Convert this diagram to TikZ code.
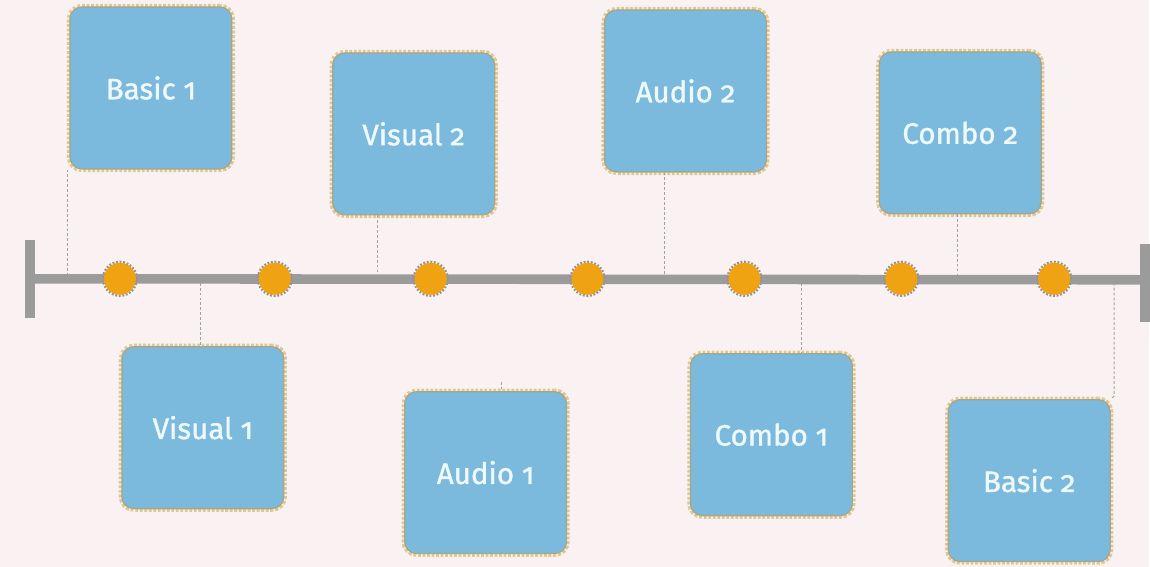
\documentclass[tikz,border=0pt]{standalone}
\usepackage{fontspec}
\setmainfont{Fira Sans}[Numbers=OldStyle]
\newfontfamily\cardfont{Fira Sans}[Numbers=OldStyle, FakeBold=1.2]
\usepackage{tikz}
\usetikzlibrary{calc}
\definecolor{bgpink}{RGB}{250,242,242}
\definecolor{cardblue}{RGB}{123,185,221}
\definecolor{cardedge}{RGB}{170,165,130}
\definecolor{cardhalo}{RGB}{222,200,150}
\definecolor{cardtext}{RGB}{238,249,252}
\definecolor{dotorange}{RGB}{240,163,18}
\definecolor{dotgray}{RGB}{150,146,140}
\definecolor{axisgray}{RGB}{155,155,155}
\definecolor{linkgray}{RGB}{165,160,155}
\tikzset{
	card/.style={rectangle, rounded corners=0.3cm, minimum width=4.05cm, minimum height=4.05cm,
		fill=cardblue, draw=cardedge, line width=0.9pt, text=cardtext,
		font=\cardfont\fontsize{21}{26}\selectfont,
		preaction={draw=cardhalo, line width=4.5pt, dash pattern=on 2pt off 1.2pt}},
	milestone/.style={circle, minimum size=0.8cm, inner sep=0pt, fill=dotorange,
		preaction={draw=dotgray, line width=3pt, dash pattern=on 1.2pt off 1.2pt}},
	link/.style={draw=linkgray, line width=0.7pt, dash pattern=on 2pt off 1.5pt},
	axis/.style={draw=axisgray, line width=6.8pt},
}

\begin{document}
\begin{tikzpicture}[x=0.025cm, y=-0.025cm]
			%%%%% START %%%%%
			
			\fill[bgpink] (0, 0) rectangle (1150, 567);
			
			% cards above the line
			\node[card] (basic1) at (151, 88) {Basic 1};
			\node[card] (visual2) at (414, 134) {Visual 2};
			\node[card] (audio2) at (686, 91) {Audio 2};
			\node[card] (combo2) at (961, 133) {Combo 2};
			
			% cards below the line
			\node[card] (visual1) at (203, 428) {Visual 1};
			\node[card] (audio1) at (486, 473) {Audio 1};
			\node[card] (combo1) at (772, 435) {Combo 1};
			\node[card] (basic2) at (1030, 481) {Basic 2};
			
			% where the links meet the line
			\coordinate (p1) at (68, 276);
			\coordinate (p2) at (378, 276);
			\coordinate (p3) at (665, 276);
			\coordinate (p4) at (958, 276);
			\coordinate (p5) at (201, 283);
			\coordinate (p6) at (502, 382);
			\coordinate (p7) at (802, 283);
			\coordinate (p8) at (1115, 283);
			
			\draw[link] (p1 |- basic1.south) -- (p1);
			\draw[link] (p2 |- visual2.south) -- (p2);
			\draw[link] (p3 |- audio2.south) -- (p3);
			\draw[link] (p4 |- combo2.south) -- (p4);
			\draw[link] (p5) -- (p5 |- visual1.north);
			\draw[link] (p6) -- (p6 |- audio1.north);
			\draw[link] (p7) -- (p7 |- combo1.north);
			\draw[link] (p8) -- ($(p8 |- basic2.north)+(0, -3)$) -- (basic2.north east);
			
			% the time line
			\coordinate (tl-start) at (30, 279);
			\coordinate (tl-end) at (1146, 280);
			\draw[axis] (tl-start) -- (tl-end);
			\draw[axis, line width=7pt] ($(tl-start)+(0, -39)$) -- ($(tl-start)+(0, 39)$);
			\draw[axis, line width=7pt] ($(tl-end)+(0, -36)$) -- ($(tl-end)+(0, 42)$);
			
			\node[milestone] (m1) at (120, 279) {};
			\node[milestone] (m2) at (275, 279) {};
			\node[milestone] (m3) at (431, 279) {};
			\node[milestone] (m4) at (588, 279) {};
			\node[milestone] (m5) at (745, 279) {};
			\node[milestone] (m6) at (902, 279) {};
			\node[milestone] (m7) at (1055, 279) {};
			
			%%%%% END %%%%%
\end{tikzpicture}
\end{document}
